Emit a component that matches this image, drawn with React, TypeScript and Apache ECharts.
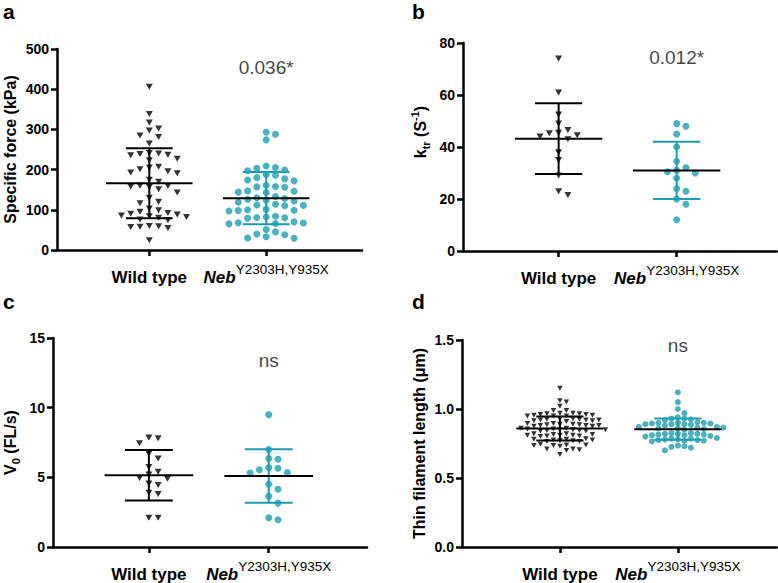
import React, { useEffect, useRef } from "react";
import * as echarts from "echarts";

// ---------- data ----------
const groupLabels = ["Wild type", "Neb"];
const mutantSup = "Y2303H,Y935X";
const panelLetters = ["a", "b", "c", "d"];
const sigLabels = ["0.036*", "0.012*", "ns", "ns"];
const sigLevels = [453, 74.6, 13.4, 1.46];

// a: specific force (kPa)
const forceTicks = [0, 100, 200, 300, 400, 500];
const wtForce = [406, 338, 317, 302, 297, 285, 281, 265, 241, 239, 237, 236, 240, 227, 223, 207, 205, 201, 196, 193, 191, 175, 170, 160, 158, 157, 159, 151, 143, 130, 120, 116, 103, 99, 95, 92, 90, 88, 86, 84, 82, 80, 76, 74, 60, 58, 57, 55, 59, 24];
const nebForce = [293, 288, 274, 209, 205, 203, 199, 197, 188, 186, 180, 177, 174, 172, 161, 158, 157, 156, 147, 146, 144, 143, 133, 130, 128, 126, 124, 122, 119, 114, 112, 111, 110, 101, 100, 99, 98, 97, 84, 82, 81, 80, 79, 70, 68, 66, 65, 67, 51, 45, 40, 38, 33, 30, 29];
const forceMean = [166, 129];
const forceSD = [87, 65];

// b: ktr (s^-1)
const ktrTicks = [0, 20, 40, 60, 80];
const wtKtr = [74, 61, 52.5, 49, 46.5, 45.5, 45.3, 44.5, 44, 43, 38, 35, 29, 23, 21.5];
const nebKtr = [49, 48, 45, 40, 34.5, 32, 31, 30.5, 30, 28, 24, 23, 20, 18, 12];
const ktrMean = [43.2, 31];
const ktrSD = [13.6, 11];

// c: V0 (FL/s)
const v0Ticks = [0, 5, 10, 15];
const wtV0 = [7.85, 7.8, 7.45, 6.7, 6.35, 5.75, 5.4, 5.2, 4.95, 4.9, 4.55, 4.45, 3.9, 3.8, 2.1, 2.1];
const nebV0 = [9.5, 7.0, 6.35, 6.3, 5.7, 5.65, 5.55, 5.35, 5.3, 4.5, 4.15, 3.65, 3.15, 2.1, 1.95];
const v0Mean = [5.15, 5.1];
const v0SD = [1.82, 1.92];

// d: thin filament length (um)
const tflTicks = [0, 0.5, 1.0, 1.5];
const wtTfl = [1.15, 1.06, 1.05, 1.02, 0.99, 0.99,
  0.97, 0.97, 0.965, 0.965, 0.96, 0.96, 0.955, 0.955, 0.95, 0.95, 0.95,
  0.93, 0.93, 0.925, 0.925, 0.92, 0.92, 0.92, 0.915, 0.915, 0.91,
  0.895, 0.895, 0.89, 0.89, 0.885, 0.885, 0.88, 0.88, 0.88, 0.875, 0.875,
  0.86, 0.86, 0.855, 0.855, 0.85, 0.85, 0.85, 0.845, 0.845, 0.84, 0.84,
  0.82, 0.82, 0.815, 0.815, 0.81, 0.81, 0.81, 0.805, 0.805, 0.80,
  0.785, 0.78, 0.78, 0.775, 0.775, 0.77, 0.77, 0.765, 0.765,
  0.745, 0.74, 0.74, 0.735, 0.735, 0.73,
  0.71, 0.71, 0.705, 0.70,
  0.67];
const nebTfl = [1.12, 1.05, 1.0, 0.97, 0.94,
  0.93, 0.93, 0.925, 0.92,
  0.905, 0.90, 0.90, 0.90, 0.895, 0.895, 0.89, 0.89, 0.89, 0.885, 0.88,
  0.87, 0.87, 0.865, 0.865, 0.86, 0.86, 0.855, 0.85,
  0.825, 0.825, 0.82, 0.82, 0.82, 0.815, 0.815, 0.81, 0.81, 0.805, 0.80,
  0.79, 0.785, 0.785, 0.78, 0.78, 0.775, 0.775, 0.77, 0.77, 0.765,
  0.735, 0.73, 0.725, 0.72,
  0.70];
const tflMean = [0.859, 0.854];
const tflSD = [0.087, 0.077];

const yNames = [
  "Specific force (kPa)",
  "{m|k}{sub|tr}{m| (S}{sup|-1}{m|)}",
  "{m|V}{sub|0}{m| (FL/s)}",
  "Thin filament length (μm)",
];

// ---------- style / layout ----------
const FONT = 'Arial, "Liberation Sans", sans-serif';
const TEAL = "#1d9db3";
const layouts = [
  { left: 57, top: 49, width: 305, height: 201, xMin: -0.79, xMax: 1.82, tri: [7, 6], dot: 7, col: 9.3, row: 7, nameGap: 39, namePad: [0, 0, 0, 0], dec: 0 },
  { left: 463, top: 43, width: 314, height: 208, xMin: -0.81, xMax: 1.85, tri: [7, 6], dot: 7, col: 9.3, row: 7.5, nameGap: 32, namePad: [0, 0, 0, 30], dec: 0 },
  { left: 53, top: 338, width: 314, height: 209, xMin: -0.8, xMax: 1.82, tri: [7, 6], dot: 7, col: 9.3, row: 7.5, nameGap: 32, namePad: [0, 0, 0, 0], dec: 0 },
  { left: 462, top: 340, width: 315, height: 207, xMin: -0.83, xMax: 1.84, tri: [5.5, 5], dot: 6, col: 6.5, row: 5.5, nameGap: 35, namePad: [0, 0, 0, 0], dec: 1 },
];
const MEAN_HALF = 0.37;
const CAP_HALF = 0.2;
const AXIS_W = 2.5;

function swarmOffsets(values: number[], pxY: number, pxX: number, colPx: number, rowPx: number): number[] {
  const order = values.map((_, i) => i).sort((a, b) => values[b] - values[a]);
  const cols: Record<string, number[]> = {};
  const out = new Array(values.length).fill(0);
  for (const i of order) {
    const y = values[i] * pxY;
    for (let k = 0; k < 400; k++) {
      const c = k === 0 ? 0 : k % 2 === 1 ? (k + 1) / 2 : -k / 2;
      const key = String(c);
      const list = cols[key] || (cols[key] = []);
      if (list.every((yy) => Math.abs(yy - y) >= rowPx)) {
        list.push(y);
        out[i] = (c * colPx) / pxX;
        break;
      }
    }
  }
  return out;
}

export default function App() {
  const ref = useRef<HTMLDivElement>(null);
  useEffect(() => {
    document.body.style.margin = "0";
    if (!ref.current) return;
    const chart = echarts.init(ref.current, null, { renderer: "svg" });

    const panels = [
      { ticks: forceTicks, wt: wtForce, neb: nebForce, mean: forceMean, sd: forceSD },
      { ticks: ktrTicks, wt: wtKtr, neb: nebKtr, mean: ktrMean, sd: ktrSD },
      { ticks: v0Ticks, wt: wtV0, neb: nebV0, mean: v0Mean, sd: v0SD },
      { ticks: tflTicks, wt: wtTfl, neb: nebTfl, mean: tflMean, sd: tflSD },
    ];

    const grid: any[] = [];
    const xAxis: any[] = [];
    const yAxis: any[] = [];
    const series: any[] = [];
    const axisLine = { show: true, onZero: false, lineStyle: { color: "#000", width: AXIS_W } };
    const nameRich = {
      m: { fontSize: 16, fontWeight: "bold", color: "#000", fontFamily: FONT, lineHeight: 22, verticalAlign: "middle" },
      sub: { fontSize: 11, fontWeight: "bold", color: "#000", fontFamily: FONT, lineHeight: 12, verticalAlign: "bottom" },
      sup: { fontSize: 11, fontWeight: "bold", color: "#000", fontFamily: FONT, lineHeight: 12, verticalAlign: "top" },
    };

    panels.forEach((p, i) => {
      const L = layouts[i];
      const yMin = p.ticks[0];
      const yMax = p.ticks[p.ticks.length - 1];
      const pxY = L.height / (yMax - yMin);
      const pxX = L.width / (L.xMax - L.xMin);
      grid.push({ left: L.left, top: L.top, width: L.width, height: L.height, containLabel: false });
      xAxis.push({
        gridIndex: i,
        type: "value",
        min: L.xMin,
        max: L.xMax,
        axisLine,
        splitLine: { show: false },
        axisTick: { show: true, customValues: [0, 1], length: 6, lineStyle: { color: "#000", width: AXIS_W } },
        axisLabel: {
          customValues: [0, 1],
          margin: 12,
          formatter: (v: number) => (Math.round(v) === 0 ? `{wt|${groupLabels[0]}}` : `{neb|${groupLabels[1]}}{sup|${mutantSup}}`),
          rich: {
            wt: { fontSize: 17, fontWeight: "bold", color: "#000", fontFamily: FONT, lineHeight: 24, verticalAlign: "bottom" },
            neb: { fontSize: 17, fontWeight: "bold", fontStyle: "italic", color: "#000", fontFamily: FONT, lineHeight: 24, verticalAlign: "bottom" },
            sup: { fontSize: 13.5, color: "#000", fontFamily: FONT, lineHeight: 16, verticalAlign: "top" },
          },
        },
      });
      yAxis.push({
        gridIndex: i,
        type: "value",
        min: yMin,
        max: yMax,
        interval: p.ticks[1] - p.ticks[0],
        axisLine,
        splitLine: { show: false },
        axisTick: { show: true, length: 6, lineStyle: { color: "#000", width: AXIS_W } },
        axisLabel: {
          margin: 8,
          fontSize: 14,
          fontWeight: "bold",
          color: "#000",
          fontFamily: FONT,
          formatter: (v: number) => v.toFixed(L.dec),
        },
        name: yNames[i],
        nameLocation: "middle",
        nameGap: L.nameGap,
        nameTextStyle: {
          fontSize: 16,
          fontWeight: "bold",
          color: "#000",
          fontFamily: FONT,
          padding: L.namePad,
          rich: nameRich,
        },
      });

      const wtOff = swarmOffsets(p.wt, pxY, pxX, L.col, L.row);
      const nebOff = swarmOffsets(p.neb, pxY, pxX, L.col, L.row);
      series.push({
        type: "scatter",
        xAxisIndex: i,
        yAxisIndex: i,
        symbol: "triangle",
        symbolRotate: 180,
        symbolSize: L.tri,
        itemStyle: { color: "#000" },
        data: p.wt.map((v, k) => [0 + wtOff[k], v]),
        z: 2,
      });
      series.push({
        type: "scatter",
        xAxisIndex: i,
        yAxisIndex: i,
        symbol: "circle",
        symbolSize: L.dot,
        itemStyle: { color: TEAL },
        data: p.neb.map((v, k) => [1 + nebOff[k], v]),
        z: 2,
      });
      series.push({
        type: "custom",
        xAxisIndex: i,
        yAxisIndex: i,
        z: 5,
        data: [
          [0, p.mean[0], p.sd[0], 0],
          [1, p.mean[1], p.sd[1], 1],
        ],
        renderItem: (params: any, api: any) => {
          const x = api.value(0);
          const m = api.value(1);
          const s = api.value(2);
          const g = api.value(3);
          const c = api.coord([x, m]);
          const t = api.coord([x, m + s]);
          const b = api.coord([x, m - s]);
          const mw = api.size([MEAN_HALF, 0])[0];
          const cw = api.size([CAP_HALF, 0])[0];
          const col = g === 0 ? "#000" : TEAL;
          const st = { stroke: col, lineWidth: 2, fill: null };
          return {
            type: "group",
            children: [
              { type: "line", shape: { x1: t[0], y1: t[1], x2: b[0], y2: b[1] }, style: st },
              { type: "line", shape: { x1: t[0] - cw, y1: t[1], x2: t[0] + cw, y2: t[1] }, style: st },
              { type: "line", shape: { x1: b[0] - cw, y1: b[1], x2: b[0] + cw, y2: b[1] }, style: st },
              { type: "line", shape: { x1: c[0] - mw, y1: c[1], x2: c[0] + mw, y2: c[1] }, style: { stroke: "#000", lineWidth: 2, fill: null } },
            ],
          };
        },
      });
      series.push({
        type: "scatter",
        xAxisIndex: i,
        yAxisIndex: i,
        symbolSize: 1,
        itemStyle: { color: "rgba(0,0,0,0)" },
        data: [[1, sigLevels[i]]],
        label: {
          show: true,
          position: "inside",
          formatter: sigLabels[i],
          fontSize: 19,
          color: "#111",
          fontFamily: FONT,
        },
        z: 6,
      });
    });

    const letterPos = [
      [3, 1],
      [412, 1],
      [3, 291],
      [412, 291],
    ];
    const graphic = panelLetters.map((t, i) => ({
      type: "text",
      x: letterPos[i][0],
      y: letterPos[i][1],
      style: { text: t, font: `bold 21px ${FONT}`, fill: "#000", verticalAlign: "top" },
    }));

    chart.setOption({
      animation: false,
      backgroundColor: "#fff",
      textStyle: { fontFamily: FONT },
      grid,
      xAxis,
      yAxis,
      series,
      graphic,
    });
    return () => chart.dispose();
  }, []);
  return <div ref={ref} style={{ width: 778, height: 583 }} />;
}
